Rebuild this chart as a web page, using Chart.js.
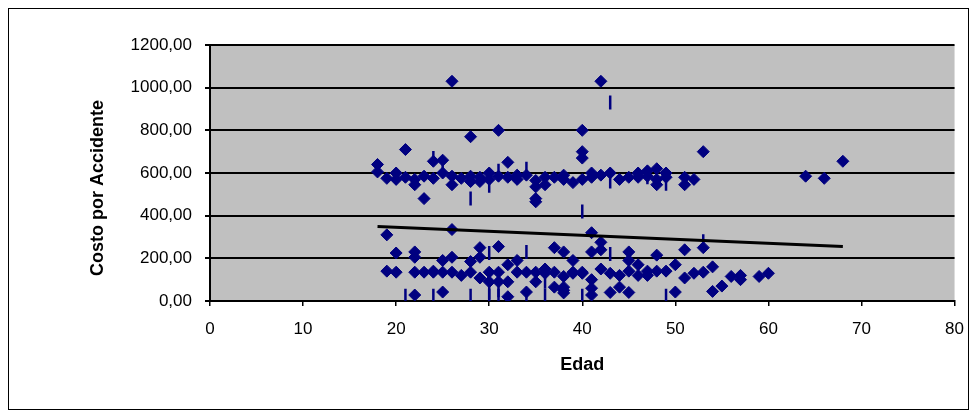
<!DOCTYPE html>
<html lang="es">
<head>
<meta charset="UTF-8">
<title>Costo por Accidente vs Edad</title>
<script src="https://cdn.jsdelivr.net/npm/chart.js"></script>
<style>
  body { margin: 0; background: #fff; }
  canvas { display: block; }
</style>
</head>
<body>
<canvas id="chart" width="977" height="412"></canvas>
<script>
// diamonds: age / cost pairs
const edad = [
  18,18,19,20,20,21,21,22,22,23,23,24,24,25,25,26,26,26,27,28,28,28,29,29,30,30,31,31,32,32,33,33,34,
  35,35,35,35,36,36,37,38,38,39,40,40,40,40,41,41,42,42,43,44,45,46,46,47,47,48,48,48,49,49,51,51,52,53,64,66,68,
  19,19,20,20,22,22,22,22,23,24,24,25,25,25,26,26,26,27,28,28,29,29,29,30,30,31,31,31,32,32,32,33,33,34,34,35,35,
  36,36,37,37,37,38,38,38,38,38,39,39,39,40,40,41,41,41,41,41,42,42,42,43,43,44,44,45,45,45,45,46,46,47,47,48,48,
  49,50,50,51,51,52,53,53,54,54,55,56,57,57,59,60
];
const costo = [
  640,605,575,600,570,710,580,570,545,585,480,655,575,660,600,1030,585,545,575,770,585,560,580,560,600,570,800,585,650,580,590,570,590,
  565,535,480,465,580,545,580,590,570,555,800,700,670,570,580,600,1030,590,600,570,580,600,580,585,610,620,570,545,580,600,580,545,570,700,585,575,655,
  310,140,225,135,230,205,135,28,135,135,140,190,135,42,335,205,135,120,185,135,250,205,108,135,90,255,135,90,170,90,20,190,135,135,42,135,90,
  130,150,250,135,65,230,115,65,50,38,190,135,130,135,130,320,230,100,60,28,275,240,150,130,40,120,65,230,190,40,140,170,120,120,140,215,140,
  140,170,42,240,108,130,250,135,160,45,70,115,120,100,115,130
];

// short vertical bars
const dashEdad = [21,24,24,25,28,28,30,30,30,30,31,31,31,34,34,34,36,36,40,40,43,43,43,47,49,49,53];
const dashCosto = [25,670,25,620,480,25,540,225,40,25,610,50,25,620,230,25,90,25,420,25,930,560,220,580,550,25,280];

// linear trend
const trendEdad = [18, 68];
const trendCosto = [349, 256];

const xTicks = [0, 10, 20, 30, 40, 50, 60, 70, 80];
const yTicks = [0, 200, 400, 600, 800, 1000, 1200];

const navy = '#000080';
const toPts = (xs, ys) => xs.map((x, i) => ({ x: x, y: ys[i] }));

const frame = {
  id: 'frame',
  beforeDraw(chart) {
    const { ctx, chartArea: a } = chart;
    ctx.save();
    ctx.fillStyle = '#fff';
    ctx.fillRect(0, 0, chart.width, chart.height);
    ctx.strokeStyle = '#000';
    ctx.lineWidth = 1;
    ctx.strokeRect(8.5, 8.5, 960, 401);
    ctx.fillStyle = '#c0c0c0';
    ctx.fillRect(a.left, a.top, a.right - a.left, a.bottom - a.top);
    ctx.restore();
  }
};

const font = { family: '"Liberation Sans", Arial, sans-serif', size: 17 };
const titleFont = { family: font.family, size: 18, weight: 'bold' };

new Chart(document.getElementById('chart'), {
  type: 'scatter',
  data: {
    datasets: [
      {
        label: 'Tendencia',
        data: toPts(trendEdad, trendCosto),
        showLine: true,
        borderColor: '#000',
        borderWidth: 3,
        pointRadius: 0,
        order: 0
      },
      {
        label: 'Costo',
        data: toPts(edad, costo),
        pointStyle: 'rectRot',
        pointRadius: 6,
        backgroundColor: navy,
        borderColor: navy,
        borderWidth: 1,
        order: 1
      },
      {
        label: 'Costo2',
        data: toPts(dashEdad, dashCosto),
        pointStyle: 'line',
        rotation: 90,
        pointRadius: 7,
        borderColor: navy,
        borderWidth: 2.5,
        order: 2
      }
    ]
  },
  options: {
    responsive: false,
    animation: false,
    events: [],
    layout: { padding: { left: 0, top: 45, right: 19, bottom: 0 } },
    plugins: { legend: { display: false }, tooltip: { enabled: false } },
    scales: {
      x: {
        type: 'linear',
        min: 0,
        max: 80,
        afterFit(s) { s.height = 111; },
        afterBuildTicks(s) { s.ticks = xTicks.map(v => ({ value: v })); },
        grid: { drawOnChartArea: false, color: '#000', tickLength: 5, lineWidth: 1.5 },
        border: { color: '#000', width: 2 },
        ticks: { color: '#000', font: font, padding: 13, maxRotation: 0 },
        title: { display: true, text: 'Edad', color: '#000', font: titleFont,
                 padding: { top: 0, bottom: 36 } }
      },
      y: {
        type: 'linear',
        min: 0,
        max: 1200,
        afterFit(s) { s.width = 210; },
        afterBuildTicks(s) { s.ticks = yTicks.map(v => ({ value: v })); },
        grid: { color: '#000', lineWidth: 2, tickLength: 5 },
        border: { color: '#000', width: 2 },
        ticks: { color: '#000', font: font, padding: 13,
                 callback: v => v.toFixed(2).replace('.', ',') },
        // trailing spaces push the rotated title a little lower, as in the original
        title: { display: true, text: 'Costo por Accidente      ', color: '#000', font: titleFont,
                 padding: { top: 87, bottom: 0 } }
      }
    }
  },
  plugins: [frame]
});
</script>
</body>
</html>
